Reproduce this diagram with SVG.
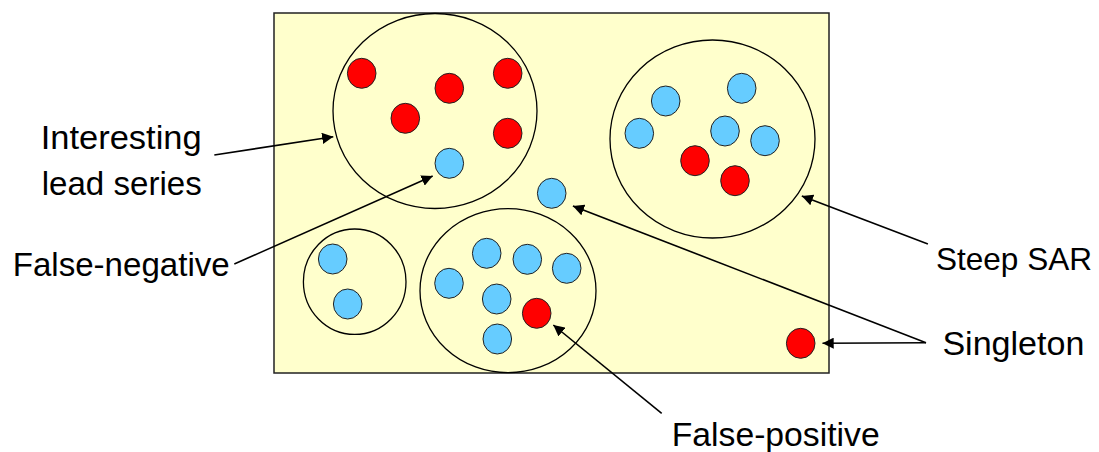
<svg xmlns="http://www.w3.org/2000/svg" width="1099" height="452" viewBox="0 0 1099 452">
  <style>
    .panel { fill: #FFFFCC; stroke: #222; stroke-width: 1.5; }
    .cluster { fill: none; stroke: #000; stroke-width: 1.3; }
    .red { fill: #FF0000; stroke: #222; stroke-width: 1; }
    .blue { fill: #66CCFF; stroke: #222; stroke-width: 1; }
    .lead { fill: none; stroke: #000; stroke-width: 1.6; marker-end: url(#tip); }
    .label { font-family: "Liberation Sans", Arial, sans-serif; font-size: 34px; fill: #000; }
  </style>
  <defs>
    <marker id="tip" viewBox="0 0 10 10" refX="10" refY="5" markerWidth="7" markerHeight="7" markerUnits="strokeWidth" orient="auto">
      <path d="M0,0 L10,5 L0,10 z" fill="#000"/>
    </marker>
  </defs>

  <!-- chemical space panel -->
  <rect id="panel" class="panel" x="274" y="13" width="555" height="360"/>

  <!-- cluster: interesting lead series -->
  <g id="lead-series">
    <ellipse class="cluster" cx="435" cy="111" rx="102" ry="97.5"/>
    <ellipse class="red" cx="361.7" cy="73.3" rx="14.3" ry="15"/>
    <ellipse class="red" cx="449.3" cy="88.3" rx="14.3" ry="15"/>
    <ellipse class="red" cx="507.7" cy="73.3" rx="14.3" ry="15"/>
    <ellipse class="red" cx="405.3" cy="118.3" rx="14.3" ry="15"/>
    <ellipse class="red" cx="507.7" cy="133.3" rx="14.3" ry="15"/>
    <ellipse class="blue" cx="449.3" cy="163.3" rx="14.3" ry="15"/>
  </g>

  <!-- cluster: steep SAR -->
  <g id="steep-sar">
    <ellipse class="cluster" cx="712.5" cy="139" rx="102.5" ry="99"/>
    <ellipse class="blue" cx="665.7" cy="101" rx="14.3" ry="15"/>
    <ellipse class="blue" cx="741.7" cy="88.3" rx="14.3" ry="15"/>
    <ellipse class="blue" cx="639.3" cy="133.3" rx="14.3" ry="15"/>
    <ellipse class="blue" cx="725" cy="131" rx="14.3" ry="15"/>
    <ellipse class="blue" cx="765" cy="140.7" rx="14.3" ry="15"/>
    <ellipse class="red" cx="695" cy="160.7" rx="14.3" ry="15"/>
    <ellipse class="red" cx="735" cy="180.7" rx="14.3" ry="15"/>
  </g>

  <!-- small inactive cluster -->
  <g id="small-cluster">
    <ellipse class="cluster" cx="354.7" cy="281.7" rx="51.3" ry="52.7"/>
    <ellipse class="blue" cx="332.7" cy="259" rx="14.3" ry="15"/>
    <ellipse class="blue" cx="347.7" cy="304" rx="14.3" ry="15"/>
  </g>

  <!-- inactive cluster with one active -->
  <g id="inactive-cluster">
    <ellipse class="cluster" cx="508" cy="290.7" rx="88" ry="82"/>
    <ellipse class="blue" cx="486.7" cy="253.3" rx="14.3" ry="15"/>
    <ellipse class="blue" cx="527.3" cy="259.3" rx="14.3" ry="15"/>
    <ellipse class="blue" cx="566.7" cy="268.3" rx="14.3" ry="15"/>
    <ellipse class="blue" cx="449" cy="283.3" rx="14.3" ry="15"/>
    <ellipse class="blue" cx="496.7" cy="299" rx="14.3" ry="15"/>
    <ellipse class="red" cx="536.7" cy="313.3" rx="14.3" ry="15"/>
    <ellipse class="blue" cx="497.3" cy="339" rx="14.3" ry="15"/>
  </g>

  <!-- singletons -->
  <g id="singleton-blue">
    <ellipse class="blue" cx="551.7" cy="193.3" rx="14.3" ry="15"/>
  </g>
  <g id="singleton-red">
    <ellipse class="red" cx="800.7" cy="343.3" rx="14.3" ry="15"/>
  </g>

  <!-- connectors -->
  <g id="connectors">
    <line class="lead" x1="214.3" y1="155" x2="333.3" y2="136.7"/>
    <line class="lead" x1="234.3" y1="264" x2="432.7" y2="176"/>
    <line class="lead" x1="927.9" y1="244" x2="801.8" y2="196"/>
    <line class="lead" x1="926" y1="342.7" x2="572.9" y2="206"/>
    <line class="lead" x1="926" y1="342.7" x2="822.5" y2="343.3"/>
    <line class="lead" x1="661.7" y1="413.3" x2="553.3" y2="325"/>
  </g>

  <!-- labels -->
  <g id="label-lead-series">
    <text class="label" x="40.7" y="149.3" textLength="161" lengthAdjust="spacingAndGlyphs">Interesting</text>
    <text class="label" x="41.7" y="195" textLength="160" lengthAdjust="spacingAndGlyphs">lead series</text>
  </g>
  <g id="label-false-negative">
    <text class="label" x="12.7" y="275.7" textLength="217" lengthAdjust="spacingAndGlyphs">False-negative</text>
  </g>
  <g id="label-steep-sar">
    <text class="label" x="936" y="270" style="font-size:32px" textLength="156" lengthAdjust="spacingAndGlyphs">Steep SAR</text>
  </g>
  <g id="label-singleton">
    <text class="label" x="942.4" y="355" textLength="142" lengthAdjust="spacingAndGlyphs">Singleton</text>
  </g>
  <g id="label-false-positive">
    <text class="label" x="671.7" y="446" textLength="208" lengthAdjust="spacingAndGlyphs">False-positive</text>
  </g>
</svg>
